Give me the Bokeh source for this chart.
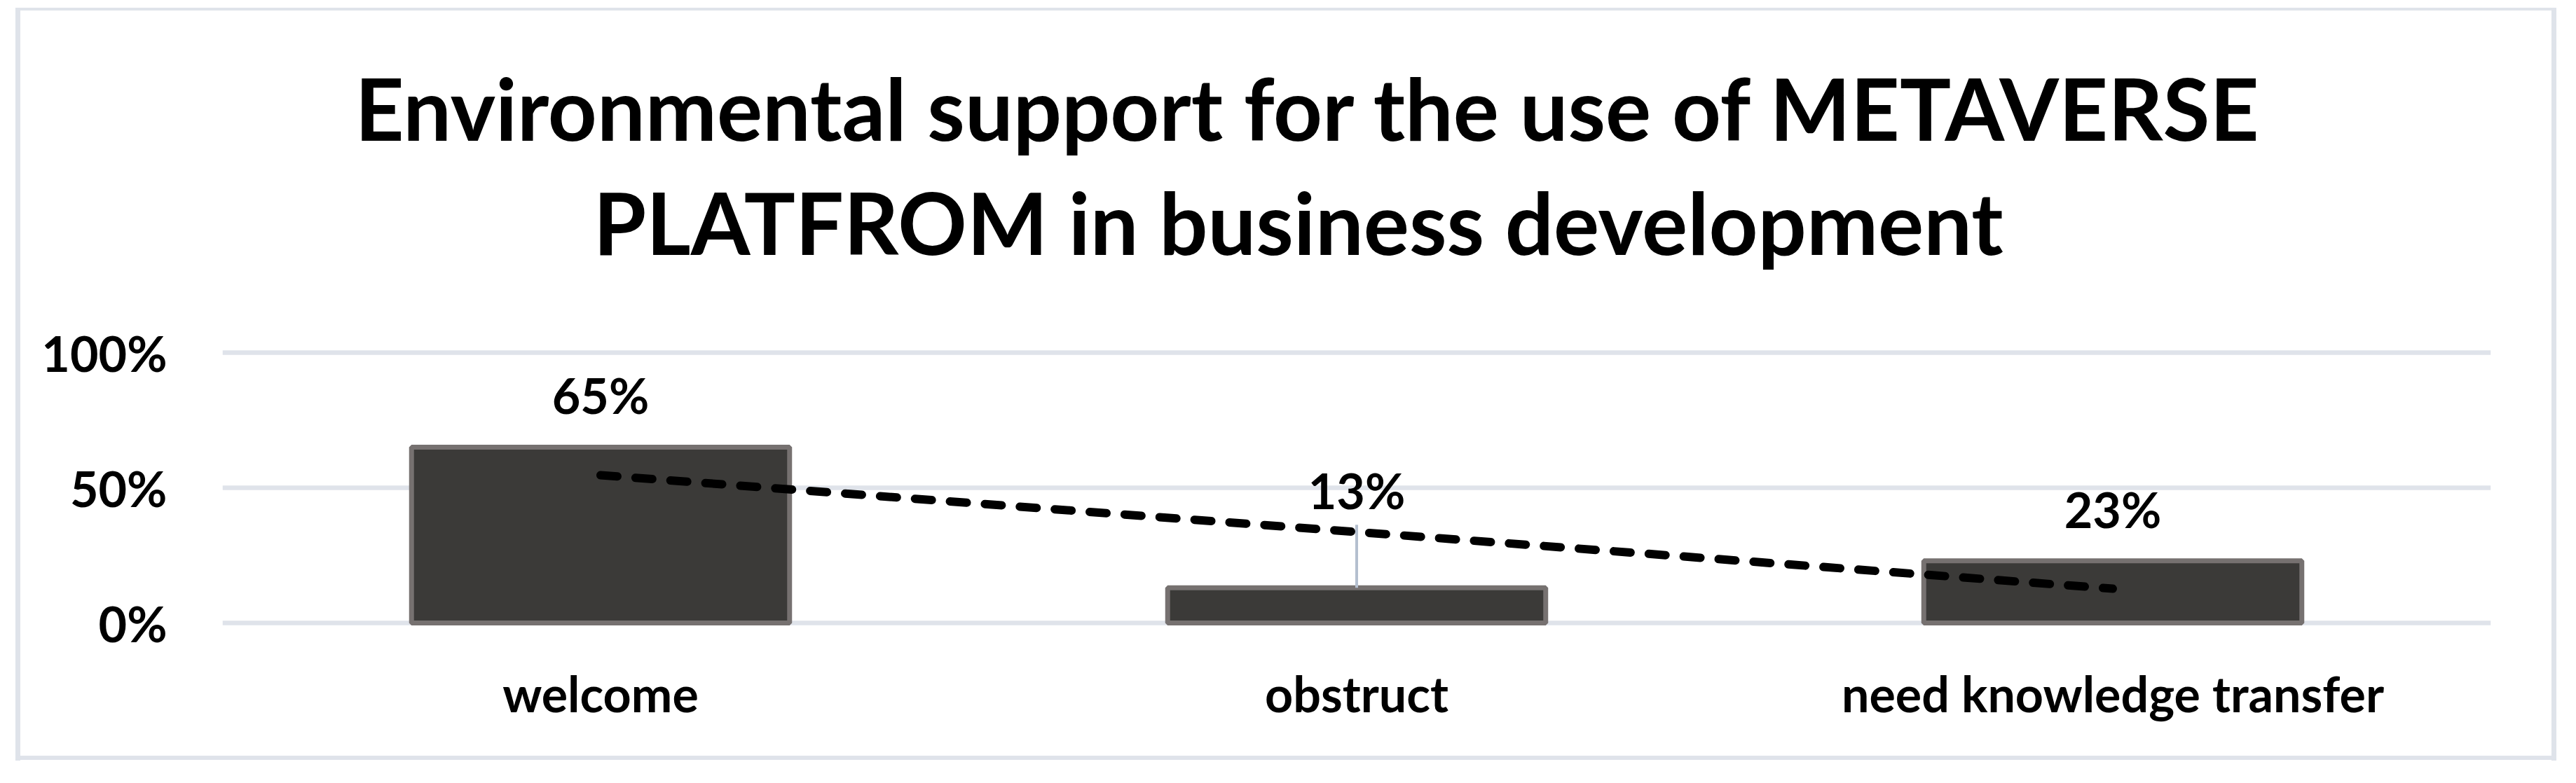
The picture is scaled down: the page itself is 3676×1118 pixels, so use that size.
import numpy as np
from bokeh.plotting import figure
from bokeh.models import (Range1d, FactorRange, FixedTicker, NumeralTickFormatter,
                          Label, ColumnDataSource)
from bokeh.core.properties import value
from bokeh.embed import file_html
from bokeh.resources import INLINE

# ---- data ----
categories = ["welcome", "obstruct", "need knowledge transfer"]
shares = [0.65, 0.13, 0.23]
label_texts = ["65%", "13%", "23%"]
y_ticks = [0, 0.5, 1.0]
title_lines = ["Environmental support for the use of METAVERSE",
               "PLATFROM  in business development"]

# ---- styles ----
FONT = "Lato"
PX_PER_UNIT = 386.0
PAD = 20 / PX_PER_UNIT
label_lift = [75, 139, 74]   # px above bar top for each data label
leader_len = 90              # px, leader line of the moved label
BORDER = "#dfe3ea"

W, H = 3660, 1102
p = figure(x_range=FactorRange(*categories, range_padding=0),
           y_range=Range1d(-PAD, 1 + PAD),
           width=W, height=H, output_backend="svg", toolbar_location=None,
           min_border_left=317, min_border_right=106,
           min_border_top=483, min_border_bottom=193)
p.outline_line_color = None
p.background_fill_color = "white"
p.border_fill_color = None
g = f"linear-gradient({BORDER},{BORDER})"
p.styles = {
    "background-image": ", ".join([g] * 4),
    "background-position": "22px 11px, 3641px 11px, 22px 11px, 22px 1079px",
    "background-size": "7px 1075px, 7px 1075px, 3626px 4px, 3626px 6px",
    "background-repeat": "no-repeat",
}

# grid
p.xgrid.grid_line_color = None
p.ygrid.ticker = FixedTicker(ticks=y_ticks)
p.ygrid.grid_line_color = BORDER
p.ygrid.grid_line_width = 6.5

# axes
p.yaxis.ticker = FixedTicker(ticks=y_ticks)
p.yaxis.formatter = NumeralTickFormatter(format="0%")
for ax in (p.xaxis[0], p.yaxis[0]):
    ax.axis_line_color = None
    ax.major_tick_line_color = None
    ax.minor_tick_line_color = None
    ax.major_label_text_font = FONT
    ax.major_label_text_font_style = "bold"
    ax.major_label_text_font_size = "70px"
    ax.major_label_text_color = "black"
p.yaxis.major_label_standoff = 73
p.xaxis.major_label_standoff = 32

# bars
src = ColumnDataSource(dict(
    cat=categories, val=shares, txt=label_texts,
    ly=[v + l / PX_PER_UNIT for v, l in zip(shares, label_lift)]))
p.vbar(x="cat", top="val", bottom=0, width=0.5, source=src,
       fill_color="#3b3a38", line_color="#767170", line_width=7)

# leader line for the moved "obstruct" label
i = 1
p.segment(x0=[categories[i]], y0=[shares[i]], x1=[categories[i]],
          y1=[shares[i] + leader_len / PX_PER_UNIT],
          line_color="#b4bfcf", line_width=4)

# linear trendline
xs = np.arange(1, len(shares) + 1)
slope, icpt = np.polyfit(xs, shares, 1)
trend = slope * xs + icpt
p.line(x=categories, y=list(trend), line_color="black", line_width=12,
       line_dash="24 26", line_cap="round")

# data labels
p.text(x="cat", y="ly", text="txt", source=src, text_align="center",
       text_baseline="alphabetic", text_font=value(FONT), text_font_style="bold",
       text_font_size="70px", text_color="black")

# title: two centred lines placed in the top panel (canvas units)
for txt, base in zip(title_lines, [153, 316]):
    p.add_layout(Label(x=1867, y=base, x_units="canvas", y_units="canvas",
                       text=txt, text_align="center", text_baseline="alphabetic",
                       text_font=FONT, text_font_style="bold",
                       text_font_size="122px", text_color="black"), "above")

open("out.html", "w").write(file_html(p, INLINE))
